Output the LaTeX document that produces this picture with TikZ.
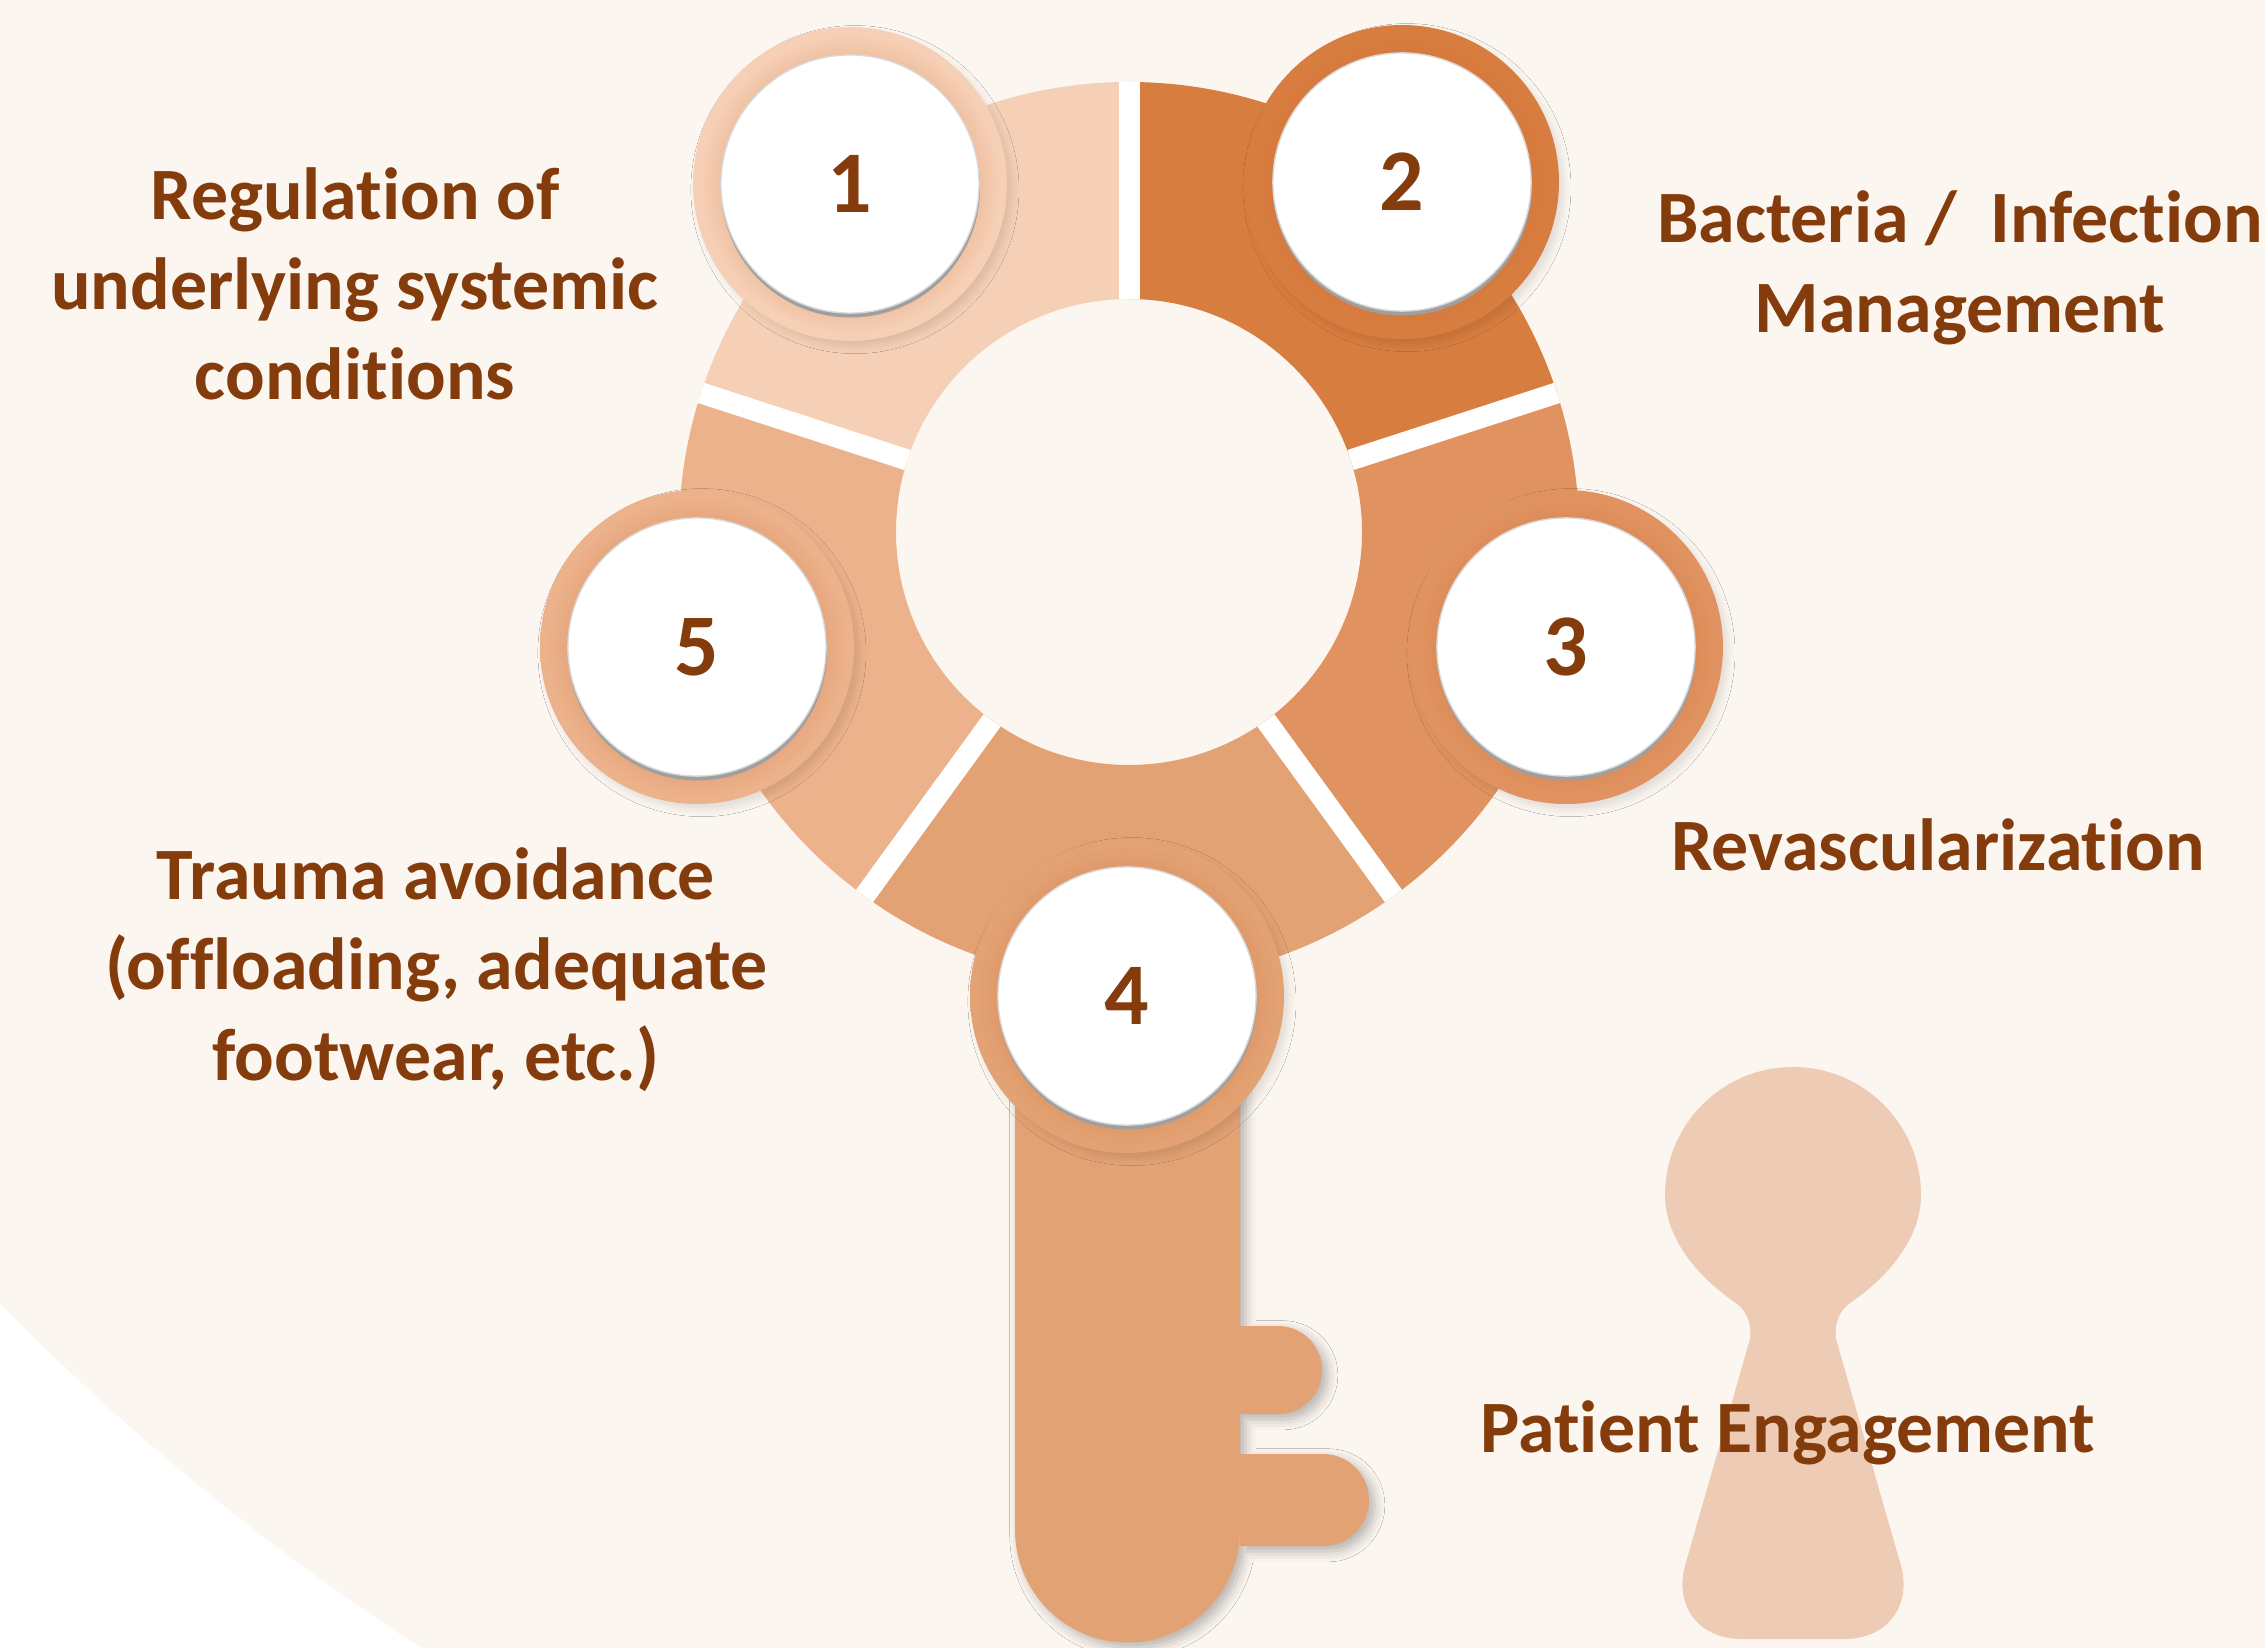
\documentclass[tikz,border=0pt]{standalone}
\usepackage{fontspec}
\setmainfont{Carlito}[Ligatures=NoCommon]
\usetikzlibrary{shadows.blur}

\definecolor{bgcream}{HTML}{FCF6F1}
\definecolor{segA}{HTML}{F6D0B6}
\definecolor{segB}{HTML}{D87D40}
\definecolor{segC}{HTML}{E09360}
\definecolor{segD}{HTML}{E3A274}
\definecolor{segE}{HTML}{ECB28C}
\definecolor{holecol}{HTML}{EECBB4}
\definecolor{labelbrown}{HTML}{843C0C}
\definecolor{rimtone}{HTML}{C8642A}
\colorlet{bumpbody}{segA}
\colorlet{bumprim}{segA}

% darker halo right around the white disc, fading to the segment colour
\pgfdeclareradialshading[bumprim,bumpbody]{bumpshade}{\pgfpoint{0bp}{0bp}}{%
  color(0bp)=(bumprim); color(20.6bp)=(bumprim); color(24bp)=(bumpbody); color(50bp)=(bumpbody)}

\newcommand\ringpart[3]{%
  \fill[#1] ([shift={(#2:450)}]ringc) arc[start angle=#2, end angle=#3, radius=450]
    -- ([shift={(#3:233)}]ringc) arc[start angle=#3, end angle=#2, radius=233] -- cycle;}

\newcommand\bump[2]{%
  \colorlet{bumpbody}{#2}\colorlet{bumprim}{#2!86!rimtone}%
  \shade[shading=bumpshade, blur shadow={shadow xshift=1.4pt, shadow yshift=-1.6pt,
    shadow blur radius=2pt, shadow opacity=10}] (#1) circle (157);}

\tikzset{
  numdisc/.style={circle, fill=white, draw=gray!30, line width=0.4pt,
    minimum size=2.58cm, inner sep=0pt,
    text=labelbrown, font=\bfseries\fontsize{25}{30}\selectfont},
  discrim/.style={fill=gray!75},
  caption/.style={text=labelbrown, font=\bfseries\fontsize{21}{25.6}\selectfont,
    align=center, inner sep=0pt},
}

\begin{document}
\begin{tikzpicture}[x=0.01cm, y=0.01cm]
\useasboundingbox (0,0) rectangle (2265,1647);
\fill[white] (0,0) rectangle (2265,1647);
\begin{scope}
  \clip (0,0) rectangle (2265,1647);
  \fill[bgcream] (1760,2068) circle (2464);
\end{scope}

\coordinate (ringc) at (1129,1115);
\coordinate (c1) at (850,1463);
\coordinate (c2) at (1402,1465);
\coordinate (c3) at (1566,1000);
\coordinate (c4) at (1127,651);
\coordinate (c5) at (697,1000);

% key shaft with its two teeth
\fill[segD, blur shadow={shadow xshift=1.5pt, shadow yshift=-1.5pt,
    shadow blur radius=3pt, shadow opacity=28}]
  (1015,647) -- (1015,117) arc[start angle=180, end angle=360, radius=112.5]
  -- (1240,101) -- (1323,101) arc[start angle=-90, end angle=90, radius=46]
  -- (1240,193) -- (1240,233) -- (1278,233) arc[start angle=-90, end angle=90, radius=44]
  -- (1240,321) -- (1240,647) -- cycle;

% five ring segments
\ringpart{segA}{90}{162}
\ringpart{segB}{18}{90}
\ringpart{segC}{-54}{18}
\ringpart{segD}{-126}{-54}
\ringpart{segE}{162}{234}

% white separators
\foreach \a in {90,18,-54,-126,162}
  \draw[white, line width=0.21cm] ([shift={(\a:233)}]ringc) -- ([shift={(\a:450)}]ringc);

% bumps carrying the numbered discs
\bump{c1}{segA}
\bump{c2}{segB}
\bump{c3}{segC}
\bump{c4}{segD}
\bump{c5}{segE}

% numbered discs
\foreach \c in {c1,c2,c3,c4,c5}
  \fill[discrim] ([shift={(0.5,-4)}]\c) circle (129.5);
\node[numdisc] (n1) at (c1) {1};
\node[numdisc] (n2) at (c2) {2};
\node[numdisc] (n3) at (c3) {3};
\node[numdisc] (n4) at (c4) {4};
\node[numdisc] (n5) at (c5) {5};

% keyhole
\fill[holecol] (1750,308) [rounded corners=22] -- (1664,8) -- (1922,8) [sharp corners] -- (1836,308)
  .. controls (1834,325) and (1840,338) .. (1853,346)
  .. controls (1890,372) and (1921,410) .. (1921,452)
  arc[start angle=0, end angle=180, radius=128]
  .. controls (1665,410) and (1696,372) .. (1733,346)
  .. controls (1746,338) and (1752,325) .. (1750,308) -- cycle;

% labels (anchored at the baseline of their last line)
\node[caption, anchor=base] (lab1) at (355,1247) {Regulation of\\underlying systemic\\conditions};
\node[caption, anchor=base] (lab2) at (1960,1314) {Bacteria /~ Infection\\Management};
\node[caption, anchor=base] (lab3) at (1938,776) {Revascularization};
\node[caption, anchor=base] (lab5) at (436,567) {Trauma avoidance\\(offloading, adequate\\footwear, etc.)};
\node[caption, anchor=base] (lab4) at (1788,195) {Patient Engagement};
\end{tikzpicture}
\end{document}
